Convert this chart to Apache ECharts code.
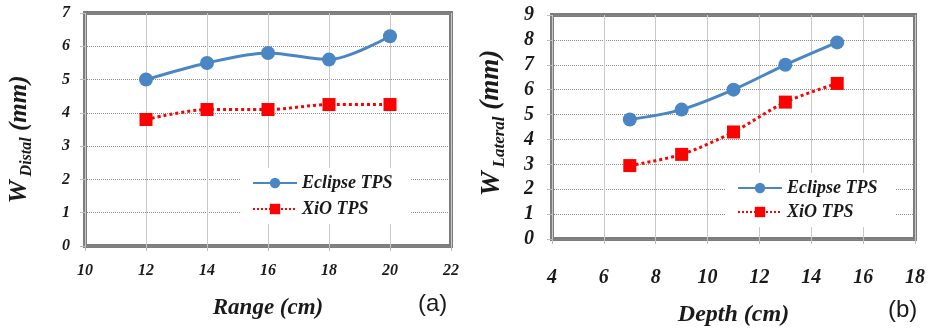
<!DOCTYPE html>
<html>
<head>
<meta charset="UTF-8">
<title>W distal / lateral</title>
<script src="https://cdn.jsdelivr.net/npm/echarts@6/dist/echarts.min.js"></script>
<style>
  html, body { margin: 0; padding: 0; background: #fff; }
  #main { width: 928px; height: 330px; }
</style>
</head>
<body>
<div id="main"></div>
<script>
// (a) distal width vs range
var rangeCm = [12, 14, 16, 18, 20];
var eclipseDistal = [5.0, 5.5, 5.8, 5.6, 6.3];
var xioDistal = [3.8, 4.1, 4.1, 4.25, 4.25];
// (b) lateral width vs depth
var depthCm = [7, 9, 11, 13, 15];
var eclipseLateral = [4.8, 5.2, 6.0, 7.0, 7.9];
var xioLateral = [2.95, 3.4, 4.3, 5.5, 6.25];

var serif = '"Liberation Serif", "DejaVu Serif", serif';
var txt = '#1a1a1a';

function pairs(xs, ys) {
  return xs.map(function (x, i) { return [x, ys[i]]; });
}

function xAxisCfg(idx, min, max, name, size, margin, gap, nameSize) {
  return {
    gridIndex: idx, type: 'value', min: min, max: max, interval: 2,
    name: name, nameLocation: 'middle', nameGap: gap,
    nameTextStyle: { fontFamily: serif, fontStyle: 'italic', fontWeight: 'bold', fontSize: nameSize, color: txt },
    axisLine: { show: false },
    axisTick: { show: true, length: 5, lineStyle: { color: '#bbb' } },
    axisLabel: { margin: margin, fontFamily: serif, fontStyle: 'italic', fontWeight: 'bold', fontSize: size, color: txt },
    splitLine: { show: true, lineStyle: { color: '#c9c9c9', width: 1 } }
  };
}

function yAxisCfg(idx, max, sub, size, margin, gap, big, shift) {
  return {
    gridIndex: idx, type: 'value', min: 0, max: max, interval: 1,
    name: '{w|W}{s|' + sub + '}{m| (mm)}', nameLocation: 'middle', nameGap: gap,
    nameTextStyle: {
      color: txt,
      padding: shift,
      rich: {
        w: { fontFamily: serif, fontStyle: 'italic', fontWeight: 'bold', fontSize: big + 1, color: txt },
        s: { fontFamily: serif, fontStyle: 'italic', fontWeight: 'bold', fontSize: Math.round(big * 0.62), color: txt, padding: [Math.round(big * 0.6), 0, 0, 4] },
        m: { fontFamily: serif, fontStyle: 'italic', fontWeight: 'bold', fontSize: big, color: txt }
      }
    },
    axisLine: { show: false },
    axisTick: { show: true, length: 5, lineStyle: { color: '#bbb' } },
    axisLabel: { margin: margin, fontFamily: serif, fontStyle: 'italic', fontWeight: 'bold', fontSize: size, color: txt },
    splitLine: { show: true, lineStyle: { color: '#8a8a8a', type: 'dotted', width: 1 } }
  };
}

function eclipse(idx, data) {
  return {
    name: 'Eclipse TPS', type: 'line', xAxisIndex: idx, yAxisIndex: idx,
    data: data, smooth: 0.3, symbol: 'circle', symbolSize: 14,
    lineStyle: { color: '#4a86c4', width: 3 },
    itemStyle: { color: '#4a86c4' }, z: 3
  };
}

function xio(idx, data) {
  return {
    name: 'XiO TPS', type: 'line', xAxisIndex: idx, yAxisIndex: idx,
    data: data, smooth: 0.3, symbol: 'rect', symbolSize: 13,
    lineStyle: { color: '#ff0000', width: 3, type: 'dotted' },
    itemStyle: { color: '#ff0000' }, z: 3
  };
}

function legendCfg(left, top, gap) {
  return {
    data: ['Eclipse TPS', 'XiO TPS'], orient: 'vertical',
    left: left, top: top, itemWidth: 44, itemHeight: 13, itemGap: gap,
    backgroundColor: '#fff', padding: [6, 18, 6, 12],
    textStyle: { fontFamily: serif, fontStyle: 'italic', fontWeight: 'bold', fontSize: 18, color: txt }
  };
}

var chart = echarts.init(document.getElementById('main'));
var option = {
  backgroundColor: '#fff',
  animation: false,
  grid: [
    { left: 85, top: 13, width: 366, height: 233, outerBoundsMode: 'none', show: true, borderColor: '#7d7d7d', borderWidth: 4, backgroundColor: '#fff' },
    { left: 552, top: 15, width: 363, height: 224, outerBoundsMode: 'none', show: true, borderColor: '#7d7d7d', borderWidth: 4, backgroundColor: '#fff' }
  ],
  xAxis: [
    xAxisCfg(0, 10, 22, 'Range (cm)', 16, 17, 51, 23),
    xAxisCfg(1, 4, 18, 'Depth (cm)', 20, 29, 64, 24)
  ],
  yAxis: [
    yAxisCfg(0, 7, 'Distal', 16, 15, 50, 25, [0, 20, 0, 0]),
    yAxisCfg(1, 9, 'Lateral', 20, 18, 44, 27, [0, 0, 0, 8])
  ],
  legend: [legendCfg(240, 168, 8), legendCfg(725, 173, 6)],
  series: [
    eclipse(0, pairs(rangeCm, eclipseDistal)),
    xio(0, pairs(rangeCm, xioDistal)),
    eclipse(1, pairs(depthCm, eclipseLateral)),
    xio(1, pairs(depthCm, xioLateral))
  ],
  graphic: [
    { type: 'text', left: 418, top: 292, style: { text: '(a)', font: '24px "Liberation Sans"', fill: txt } },
    { type: 'text', left: 888, top: 298, style: { text: '(b)', font: '24px "Liberation Sans"', fill: txt } }
  ]
};
chart.setOption(option);
window.onresize = function () { chart.resize(); };
</script>
</body>
</html>
